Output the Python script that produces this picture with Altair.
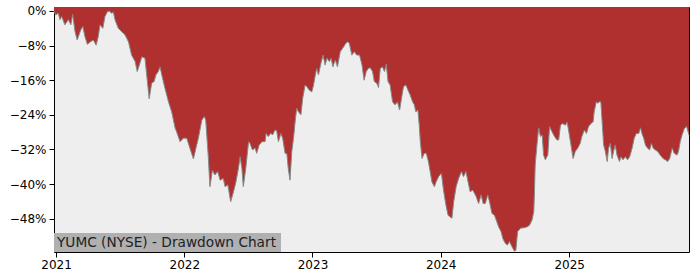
import altair as alt
import pandas as pd

TITLE = "YUMC (NYSE) - Drawdown Chart"

dates = [
    "2020-12-26", "2020-12-31", "2021-01-07", "2021-01-12", "2021-01-17", "2021-01-26",
    "2021-02-05", "2021-02-12", "2021-02-17", "2021-02-24", "2021-03-02", "2021-03-12",
    "2021-03-18", "2021-03-24", "2021-03-31", "2021-04-09", "2021-04-17", "2021-04-25",
    "2021-05-01", "2021-05-06", "2021-05-14", "2021-05-20", "2021-05-27", "2021-06-01",
    "2021-06-08", "2021-06-13", "2021-06-18", "2021-06-27", "2021-07-07", "2021-07-16",
    "2021-07-26", "2021-08-04", "2021-08-14", "2021-08-20", "2021-08-26", "2021-09-02",
    "2021-09-11", "2021-09-16", "2021-09-23", "2021-09-30", "2021-10-07", "2021-10-12",
    "2021-10-19", "2021-10-24", "2021-10-29", "2021-11-07", "2021-11-17", "2021-11-26",
    "2021-12-06", "2021-12-10", "2021-12-20", "2021-12-29",
    "2022-01-08", "2022-01-17", "2022-01-27", "2022-02-03", "2022-02-10", "2022-02-20",
    "2022-02-27", "2022-03-03", "2022-03-10", "2022-03-15", "2022-03-22", "2022-03-29",
    "2022-04-06", "2022-04-13", "2022-04-22", "2022-04-27", "2022-05-05", "2022-05-13",
    "2022-05-21", "2022-05-28", "2022-06-04", "2022-06-09", "2022-06-14", "2022-06-18",
    "2022-06-25", "2022-07-03", "2022-07-07", "2022-07-14", "2022-07-22", "2022-07-26",
    "2022-08-02", "2022-08-10", "2022-08-19", "2022-08-22", "2022-08-28", "2022-09-04",
    "2022-09-10", "2022-09-16", "2022-09-21", "2022-09-26", "2022-10-03", "2022-10-08",
    "2022-10-15", "2022-10-20", "2022-10-24", "2022-10-29", "2022-11-03", "2022-11-08",
    "2022-11-13", "2022-11-17", "2022-11-22", "2022-11-29", "2022-12-04", "2022-12-11",
    "2022-12-16", "2022-12-23", "2022-12-30",
    "2023-01-04", "2023-01-09", "2023-01-13", "2023-01-18", "2023-01-25", "2023-01-31",
    "2023-02-06", "2023-02-11", "2023-02-18", "2023-02-23", "2023-02-28", "2023-03-07",
    "2023-03-13", "2023-03-21", "2023-03-28", "2023-04-04", "2023-04-11", "2023-04-16",
    "2023-04-23", "2023-04-30", "2023-05-07", "2023-05-15", "2023-05-22", "2023-05-28",
    "2023-06-03", "2023-06-09", "2023-06-14", "2023-06-21", "2023-06-26", "2023-07-03",
    "2023-07-08", "2023-07-13", "2023-07-19", "2023-07-25", "2023-07-30", "2023-08-04",
    "2023-08-10", "2023-08-17", "2023-08-24", "2023-08-31", "2023-09-06", "2023-09-13",
    "2023-09-17", "2023-09-24", "2023-09-30", "2023-10-06", "2023-10-13", "2023-10-18",
    "2023-10-22", "2023-10-28", "2023-11-01", "2023-11-04", "2023-11-09", "2023-11-15",
    "2023-11-21", "2023-11-27", "2023-12-02", "2023-12-07", "2023-12-14", "2023-12-19",
    "2023-12-26",
    "2024-01-03", "2024-01-09", "2024-01-16", "2024-01-22", "2024-01-28", "2024-02-02",
    "2024-02-07", "2024-02-14", "2024-02-21", "2024-02-29", "2024-03-06", "2024-03-13",
    "2024-03-19", "2024-03-25", "2024-04-01", "2024-04-04", "2024-04-11", "2024-04-18",
    "2024-04-25", "2024-05-01", "2024-05-07", "2024-05-14", "2024-05-19", "2024-05-26",
    "2024-06-02", "2024-06-07", "2024-06-14", "2024-06-21", "2024-06-26", "2024-07-03",
    "2024-07-09", "2024-07-15", "2024-07-22", "2024-07-29", "2024-08-02", "2024-08-07",
    "2024-08-15", "2024-08-24", "2024-09-03", "2024-09-10", "2024-09-17", "2024-09-22",
    "2024-09-24", "2024-09-26", "2024-10-01", "2024-10-06", "2024-10-11", "2024-10-16",
    "2024-10-20", "2024-10-25", "2024-11-01", "2024-11-06", "2024-11-13", "2024-11-20",
    "2024-11-27", "2024-12-02", "2024-12-07", "2024-12-13", "2024-12-21", "2024-12-26",
    "2024-12-30",
    "2025-01-06", "2025-01-12", "2025-01-18", "2025-01-25", "2025-02-01", "2025-02-06",
    "2025-02-13", "2025-02-19", "2025-02-25", "2025-03-04", "2025-03-10", "2025-03-13",
    "2025-03-19", "2025-03-23", "2025-03-28", "2025-04-01", "2025-04-04", "2025-04-09",
    "2025-04-14", "2025-04-19", "2025-04-23", "2025-04-28", "2025-05-03", "2025-05-07",
    "2025-05-12", "2025-05-17", "2025-05-24", "2025-05-28", "2025-06-03", "2025-06-10",
    "2025-06-16", "2025-06-22", "2025-06-29", "2025-07-05", "2025-07-11", "2025-07-18",
    "2025-07-23", "2025-07-27", "2025-08-01", "2025-08-06", "2025-08-12", "2025-08-18",
    "2025-08-23", "2025-08-28", "2025-09-03", "2025-09-10", "2025-09-17", "2025-09-25",
    "2025-10-02", "2025-10-08", "2025-10-14", "2025-10-21", "2025-10-27", "2025-11-04",
    "2025-11-08", "2025-11-13", "2025-11-18", "2025-11-25", "2025-12-01", "2025-12-04",
    "2025-12-08",
]

drawdown = [
    0.0, -0.9, -0.5, -2.0, -1.3, -3.2,
    -2.0, -3.2, -0.8, -4.8, -6.7, -4.4,
    -3.6, -5.9, -7.7, -7.1, -6.7, -7.9,
    -5.9, -3.2, -4.0, -1.3, -0.2, 0.0,
    -0.5, -0.3, -2.1, -4.0, -4.8, -5.5,
    -7.1, -10.2, -11.7, -14.0, -12.5, -10.6,
    -10.9, -14.8, -20.3, -16.7, -16.3, -14.8,
    -14.0, -12.9, -14.8, -17.9, -21.0, -23.3,
    -27.1, -27.9, -30.2, -29.4,
    -29.4, -31.7, -34.2, -31.7, -29.4, -25.2,
    -24.4, -25.2, -33.3, -40.6, -36.8, -37.9,
    -37.1, -39.1, -38.7, -40.6, -40.2, -44.1,
    -41.8, -39.5, -36.4, -33.7, -36.4, -40.6,
    -36.4, -30.2, -30.6, -32.1, -31.7, -32.9,
    -31.0, -30.2, -30.2, -28.3, -29.0, -28.3,
    -28.6, -27.5, -27.7, -30.2, -28.3, -29.4,
    -32.9, -33.0, -36.4, -39.1, -32.5, -29.4,
    -25.2, -22.5, -23.3, -24.0, -20.2, -17.1,
    -17.5, -18.3, -18.7,
    -17.1, -14.8, -13.3, -14.8, -12.1, -10.2,
    -12.5, -10.9, -11.7, -10.9, -12.9, -11.3,
    -12.9, -9.4, -8.6, -7.7, -7.1, -7.5,
    -10.2, -9.4, -10.2, -10.2, -12.5, -16.0,
    -14.0, -13.3, -13.1, -14.0, -16.3, -16.7,
    -17.7, -13.3, -12.9, -14.0, -12.3, -16.3,
    -17.1, -21.0, -21.7, -21.0, -22.9, -19.4,
    -17.5, -17.1, -18.3, -19.4, -21.0, -21.7,
    -23.3, -22.9, -26.4, -30.2, -34.1, -32.9,
    -32.9, -34.8, -37.1, -39.5, -40.6, -39.5,
    -38.3,
    -37.5, -41.4, -44.9, -47.2, -47.6, -47.9,
    -44.1, -40.6, -38.7, -37.1, -38.3, -37.1,
    -39.5, -41.8, -41.4, -41.8, -42.9, -44.5,
    -42.5, -44.5, -44.5, -42.5, -44.1, -46.8,
    -47.2, -48.3, -49.9, -51.0, -52.6, -53.7,
    -54.1, -53.3, -54.5, -55.5, -55.3, -51.0,
    -50.2, -50.1, -49.9, -49.5, -48.3, -46.4,
    -41.8, -35.6, -31.0, -27.0, -29.0, -28.7,
    -33.3, -34.4, -33.3, -26.7, -27.9, -29.0,
    -29.8, -29.8, -26.4, -26.0, -26.4, -25.7,
    -27.5,
    -31.0, -34.1, -32.5, -31.7, -30.6, -29.0,
    -27.5, -28.3, -26.7, -26.0, -25.6, -23.3,
    -21.0, -21.3, -21.0, -21.0, -24.8, -31.0,
    -32.5, -34.8, -31.7, -30.6, -34.1, -32.5,
    -31.0, -33.3, -34.8, -33.7, -34.4, -33.7,
    -34.4, -33.7, -31.7, -29.4, -28.3, -28.3,
    -27.0, -28.3, -29.4, -31.0, -31.7, -32.1,
    -30.6, -31.7, -32.1, -32.5, -33.3, -34.1,
    -34.4, -34.8, -34.1, -31.7, -32.9, -33.3,
    -32.5, -30.2, -28.7, -27.1, -26.7, -27.5,
    -28.7,
]

y_ticks = [-48, -40, -32, -24, -16, -8, 0]
year_ticks = [2021, 2022, 2023, 2024, 2025]
Y_MIN, Y_MAX = -55.7, 0.92
X_START = alt.DateTime(year=2020, month=12, date=26)
X_END = alt.DateTime(year=2025, month=12, date=8)

df = pd.DataFrame({"date": dates, "dd": drawdown})

FONT = "DejaVu Sans"

x_enc = alt.X(
    "date:T",
    scale=alt.Scale(domain=[X_START, X_END]),
    axis=alt.Axis(
        values=[alt.DateTime(year=y, month=1, date=1) for y in year_ticks],
        format="%Y",
        title=None,
        grid=False,
        domain=False,
        tickColor="black",
        tickSize=5,
        labelFont=FONT,
        labelFontSize=12,
        labelColor="black",
        labelPadding=2,
        labelFlush=False,
    ),
)

y_enc = alt.Y(
    "dd:Q",
    scale=alt.Scale(domain=[Y_MIN, Y_MAX], nice=False, zero=False),
    axis=alt.Axis(
        values=y_ticks,
        labelExpr="datum.value == 0 ? '0%' : '\u2212' + abs(datum.value) + '%'",
        title=None,
        grid=False,
        domain=False,
        tickColor="black",
        tickSize=5,
        labelFont=FONT,
        labelFontSize=12,
        labelColor="black",
        labelPadding=3,
    ),
)

base = alt.Chart(df)

area = base.mark_area(color="#b03030", opacity=1).encode(
    x=x_enc, y=y_enc, y2=alt.datum(Y_MAX)
)
line = base.mark_line(color="#888888", strokeWidth=1).encode(x="date:T", y="dd:Q")

label_df = pd.DataFrame({"t": [TITLE]})
box = alt.Chart(label_df).mark_rect(color="#b0b0b0").encode(
    x=alt.value(0), x2=alt.value(227), y=alt.value(226), y2=alt.value(245)
)
text = alt.Chart(label_df).mark_text(
    align="left", baseline="middle", font=FONT, fontSize=13.7, color="#222222"
).encode(x=alt.value(3), y=alt.value(236), text="t:N")

chart = (
    alt.layer(area, line, box, text)
    .properties(
        width=635,
        height=245,
        autosize=alt.AutoSizeParams(type="none"),
        padding={"left": 54, "top": 7, "right": 11, "bottom": 28},
        background="white",
    )
    .configure_view(fill="#eeeeee", stroke="black", strokeWidth=1)
)

chart.save("out.html", embed_options={"renderer": "svg", "actions": False})
